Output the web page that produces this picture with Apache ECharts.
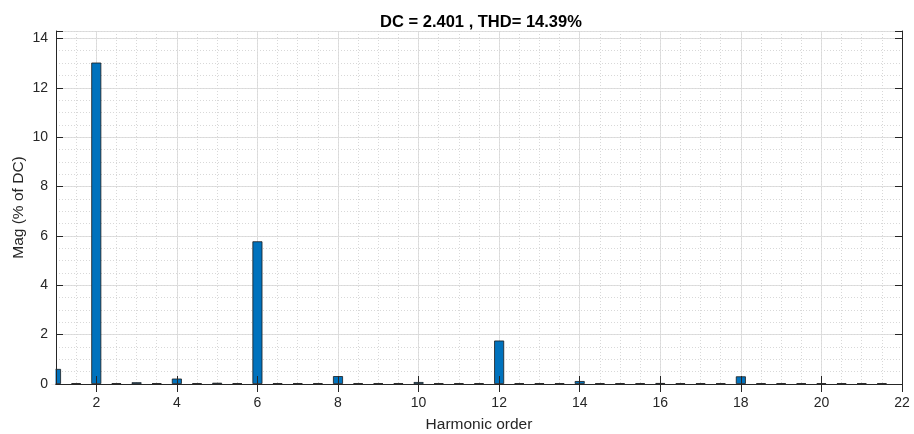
<!DOCTYPE html>
<html>
<head>
<meta charset="utf-8">
<script src="https://cdn.jsdelivr.net/npm/echarts@6/dist/echarts.min.js"></script>
<style>html,body{margin:0;padding:0;background:#fff}#c{width:914px;height:434px}</style>
</head>
<body>
<div id="c"></div>
<script>
// Harmonic orders (categories, step 0.5)
var harmonicOrders = ['1','1.5','2','2.5','3','3.5','4','4.5','5','5.5','6','6.5','7','7.5','8','8.5','9','9.5','10','10.5','11','11.5','12','12.5','13','13.5','14','14.5','15','15.5','16','16.5','17','17.5','18','18.5','19','19.5','20','20.5','21','21.5','22'];
// Magnitude (% of DC)
var magnitudes = [0.61,0.03,13.02,0.03,0.07,0.03,0.22,0.03,0.05,0.03,5.78,0.03,0.03,0.03,0.32,0.03,0.03,0.03,0.08,0.03,0.03,0.03,1.76,0.03,0.03,0.03,0.12,0.03,0.03,0.03,0.04,0.03,0.03,0.03,0.31,0.03,0.03,0.03,0.03,0.03,0.03,0.03,null];
var yTicks = [0,2,4,6,8,10,12,14];
var titleText = 'DC = 2.401 , THD= 14.39%';
var xName = 'Harmonic order';
var yName = 'Mag (% of DC)';

var FONT = '"Liberation Sans", Arial, Helvetica, sans-serif';
var AX = '#262626';
function isMajor(idx, val) { var v = Number(val); return v % 2 === 0; }
var gridRect = { left: 56, right: 12, top: 31, bottom: 50, containLabel: false, outerBoundsMode: 'none' };
var yMax = 14.3;

var chart = echarts.init(document.getElementById('c'), null, { renderer: 'canvas' });
chart.setOption({
  backgroundColor: '#fff',
  animation: false,
  title: {
    text: titleText, left: 476, top: 9, textAlign: 'center',
    textStyle: { fontFamily: FONT, fontSize: 16.5, fontWeight: 'bold', color: '#000' }
  },
  graphic: [
    { type: 'rect', z: 5, silent: true, shape: { x: 49, y: 200, width: 6.5, height: 184 },
      style: { fill: '#fff' } }
  ],
  grid: [
    Object.assign({}, gridRect),
    Object.assign({}, gridRect)
  ],
  xAxis: [
    { gridIndex: 0, type: 'category', data: harmonicOrders, boundaryGap: false, position: 'bottom',
      axisLine: { show: false }, axisTick: { show: false }, axisLabel: { show: false },
      splitLine: { show: true, interval: isMajor, lineStyle: { color: '#dfdfdf', width: 1 } } },
    { gridIndex: 0, type: 'category', data: harmonicOrders, boundaryGap: false, position: 'top',
      axisLine: { show: false }, axisTick: { show: false }, axisLabel: { show: false },
      splitLine: { show: true, interval: 0, lineStyle: { color: '#d8d8d8', width: 1, type: [1, 2] } } },
    { gridIndex: 1, type: 'category', data: harmonicOrders, boundaryGap: false, position: 'bottom', z: 10,
      name: xName, nameLocation: 'middle', nameGap: 33, nameMoveOverlap: false,
      nameTextStyle: { fontFamily: FONT, fontSize: 15.5, color: AX },
      axisLine: { show: true, lineStyle: { color: AX, width: 1 } },
      axisTick: { show: true, inside: true, length: 8, interval: isMajor, lineStyle: { color: AX } },
      axisLabel: { show: true, interval: isMajor, margin: 12, fontFamily: FONT, fontSize: 14, color: AX },
      splitLine: { show: false } },
    { gridIndex: 1, type: 'category', data: harmonicOrders, boundaryGap: false, position: 'top', z: 10,
      axisLine: { show: true, lineStyle: { color: AX, width: 1 } },
      axisTick: { show: true, inside: true, length: 8, interval: isMajor, lineStyle: { color: AX } },
      axisLabel: { show: false }, splitLine: { show: false } }
  ],
  yAxis: [
    { gridIndex: 0, type: 'value', min: 0, max: yMax, interval: 2, position: 'left',
      axisLine: { show: false }, axisTick: { show: false }, axisLabel: { show: false },
      splitLine: { show: true, lineStyle: { color: '#dfdfdf', width: 1 } } },
    { gridIndex: 0, type: 'value', min: 0, max: yMax, interval: 0.5, position: 'right',
      axisLine: { show: false }, axisTick: { show: false }, axisLabel: { show: false },
      splitLine: { show: true, lineStyle: { color: '#d8d8d8', width: 1, type: [1, 2] } } },
    { gridIndex: 1, type: 'value', min: 0, max: yMax, interval: 2, position: 'left', z: 10,
      name: yName, nameLocation: 'middle', nameGap: 29, nameRotate: 90, nameMoveOverlap: false,
      nameTextStyle: { fontFamily: FONT, fontSize: 15.5, color: AX },
      axisLine: { show: true, lineStyle: { color: AX, width: 1 } },
      axisTick: { show: true, inside: true, length: 7, lineStyle: { color: AX } },
      axisLabel: { show: true, margin: 8, fontFamily: FONT, fontSize: 14, color: AX,
        formatter: function (v) { return yTicks.indexOf(v) >= 0 ? String(v) : ''; } },
      splitLine: { show: false } },
    { gridIndex: 1, type: 'value', min: 0, max: yMax, interval: 2, position: 'right', z: 10,
      axisLine: { show: true, lineStyle: { color: AX, width: 1 } },
      axisTick: { show: true, inside: true, length: 7, lineStyle: { color: AX } },
      axisLabel: { show: false }, splitLine: { show: false } }
  ],
  series: [
    { type: 'bar', xAxisIndex: 0, yAxisIndex: 0, data: magnitudes, barWidth: 10, clip: true,
      itemStyle: { color: '#0072BD', borderColor: '#1a1a1a', borderWidth: 0.8 } }
  ]
});
</script>
</body>
</html>
